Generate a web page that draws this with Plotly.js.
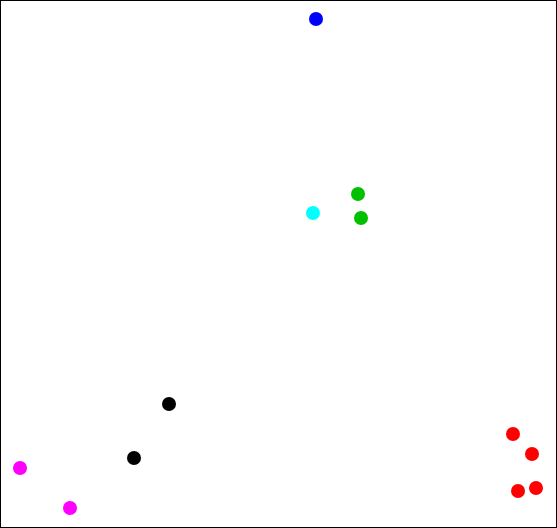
<!DOCTYPE html>
<html><head><meta charset="utf-8">
<script src="https://cdn.plot.ly/plotly-3.0.1.min.js"></script>
<style>html,body{margin:0;padding:0;background:#fff;}#chart{width:557px;height:528px;}</style>
</head><body><div id="chart"></div>
<script>
const groups = ["blue", "green", "cyan", "black", "magenta", "red"];
const colors = ["#0000ff", "#00c000", "#00ffff", "#000000", "#ff00ff", "#ff0000"];
const xs = [[316], [358, 361], [313], [169, 134], [20, 70], [513, 532, 536, 518]];
const ys = [[19], [194, 218], [213], [404, 458], [468, 508], [434, 454, 488, 491]];

const traces = groups.map((g, i) => ({
  type: "scatter", mode: "markers", name: g,
  x: xs[i], y: ys[i],
  marker: {color: colors[i], size: 14, line: {width: 0}}
}));

Plotly.newPlot("chart", traces, {
  width: 557, height: 528,
  margin: {l: 0, r: 0, t: 0, b: 0},
  paper_bgcolor: "#fff", plot_bgcolor: "#fff",
  showlegend: false,
  xaxis: {range: [0, 557], visible: false, fixedrange: true},
  yaxis: {range: [528, 0], visible: false, fixedrange: true},
  shapes: [{type: "rect", xref: "paper", yref: "paper", x0: 0, x1: 1, y0: 0, y1: 1,
            line: {color: "#000", width: 2}}]
}, {displayModeBar: false, staticPlot: true});
</script></body></html>
